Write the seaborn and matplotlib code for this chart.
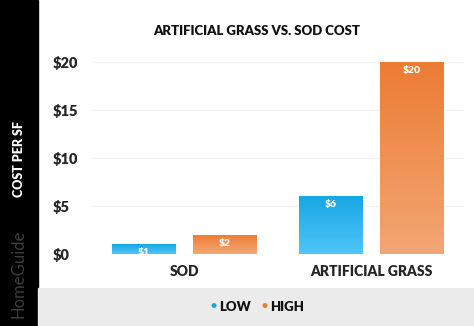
import numpy as np
import pandas as pd
import matplotlib
matplotlib.use("Agg")
import matplotlib.pyplot as plt
import seaborn as sns
from matplotlib.colors import LinearSegmentedColormap

categories = ["SOD", "ARTIFICIAL GRASS"]
series = ["LOW", "HIGH"]
low_values = [1, 6]
high_values = [2, 20]
y_ticks = [0, 5, 10, 15, 20]
y_tick_labels = ["$0", "$5", "$10", "$15", "$20"]

df = pd.DataFrame({
    "category": categories * 2,
    "series": ["LOW"] * 2 + ["HIGH"] * 2,
    "value": low_values + high_values,
})

sns.set_style("white")
plt.rcParams["font.family"] = ["Lato", "DejaVu Sans"]

fig = plt.figure(figsize=(4.74, 3.26), dpi=100)
fig.patch.set_facecolor("white")

# side band and legend band
fig.add_artist(plt.Rectangle((0, 0), 38 / 474, 1, transform=fig.transFigure, color="black", zorder=0))
fig.add_artist(plt.Rectangle((38 / 474, 0), 1, 38 / 326, transform=fig.transFigure, color="#ebebeb", zorder=0))

ax = fig.add_axes([92 / 474, (326 - 254) / 326, 372 / 474, 192 / 326])
top_cols = {"LOW": "#18a6e5", "HIGH": "#ec7c34"}
bot_cols = {"LOW": "#4fc6f8", "HIGH": "#f3a674"}
sns.barplot(data=df, x="category", y="value", hue="series", hue_order=series,
            palette=top_cols, width=0.866, gap=0.21, ax=ax, legend=False,
            errorbar=None, zorder=2)
ax.set_yticks(y_ticks)
ax.set_yticklabels(y_tick_labels, fontsize=10.5, fontweight="heavy")
for t in ax.get_yticklabels():
    t.set_horizontalalignment("left")
ax.tick_params(axis="y", length=0, pad=28)
ax.tick_params(axis="x", length=0, pad=8, labelsize=10)
for t in ax.get_xticklabels():
    t.set_fontweight("heavy")
ax.set_xlabel("")
ax.set_ylabel("")
for s in ax.spines.values():
    s.set_visible(False)
ax.grid(axis="y", color="#f3f3f3", lw=1, zorder=0)
ax.set_axisbelow(True)

# gradients and labels
for container, name in zip(ax.containers, series):
    cmap = LinearSegmentedColormap.from_list(name, [bot_cols[name], top_cols[name]])
    for patch in container:
        x0, w, h = patch.get_x(), patch.get_width(), patch.get_height()
        grad = np.linspace(0, 1, 100).reshape(-1, 1)
        im = ax.imshow(grad, extent=[x0, x0 + w, 0, h], origin="lower", cmap=cmap,
                       aspect="auto", zorder=3)
        im.set_clip_path(patch)
        ax.text(x0 + w / 2, h - 0.4, f"${h:g}", ha="center", va="top", color="white",
                fontsize=7.5, fontweight="heavy", zorder=4)
ax.set_xlim(-0.495, 1.495)
ax.set_ylim(0, 20)

fig.text(257 / 474, 1 - 31 / 326, "ARTIFICIAL GRASS VS. SOD COST", ha="center", va="center",
         fontsize=9.5, fontweight="heavy", color="#111111")
fig.text(19 / 474, 1 - 159 / 326, "COST PER SF", rotation=90, ha="center", va="center",
         fontsize=9, fontweight="heavy", color="white")
fig.text(19 / 474, 1 - 274 / 326, "HomeGuide", rotation=90, ha="center", va="center",
         fontsize=12, color="#3c3c3c")

# legend
fig.text(214 / 474, 1 - 306 / 326, "•", ha="center", va="center", fontsize=10, color=top_cols["LOW"])
fig.text(219 / 474, 1 - 307 / 326, "LOW", ha="left", va="center", fontsize=9.5, fontweight="heavy", color="#111")
fig.text(265 / 474, 1 - 306 / 326, "•", ha="center", va="center", fontsize=10, color=top_cols["HIGH"])
fig.text(270 / 474, 1 - 307 / 326, "HIGH", ha="left", va="center", fontsize=9.5, fontweight="heavy", color="#111")

fig.savefig("out.png", dpi=100)
